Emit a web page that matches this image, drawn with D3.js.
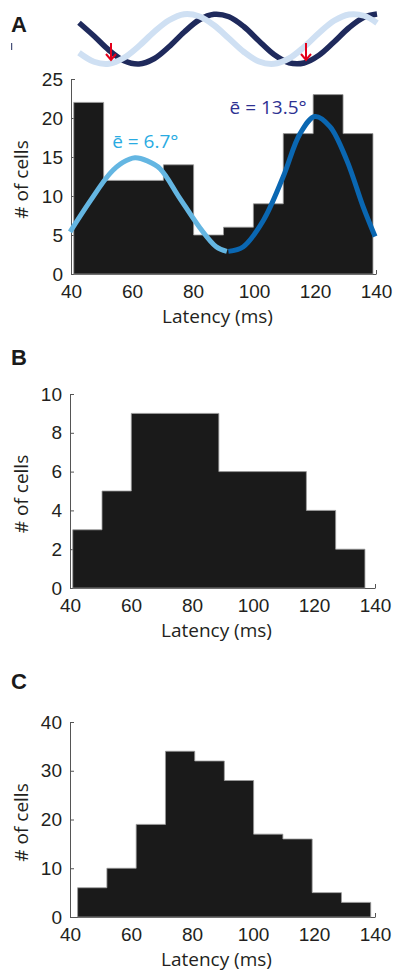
<!DOCTYPE html>
<html>
<head>
<meta charset="utf-8">
<script src="https://cdn.jsdelivr.net/npm/d3@7"></script>
<style>
  body{margin:0;background:#fff;}
  svg{display:block;font-family:"Open Sans",sans-serif;}
  .tick text{font-size:19px;fill:#231f20;}
  .ax path,.ax line{stroke:#555;stroke-width:1;}
</style>
</head>
<body>
<svg id="fig" width="393" height="972"></svg>
<script>
//DANE
//panel A - histogram + dopasowane krzywe
let binsA=[40.9, 50.7, 60.5, 70.3, 80.2, 90.0, 99.8, 109.6, 119.4, 129.2, 139.0]; //krawedzie przedzialow (ms)
let countsA=[22, 12, 12, 14, 5, 6, 9, 18, 23, 18];
let ticksA=[0, 5, 10, 15, 20, 25];
let fitLightX=[39.7, 46.2, 52.8, 57.0, 61.0, 65.0, 69.2, 75.7, 82.3, 87.6, 91.1];
let fitLightY=[5.4, 9.3, 12.9, 14.3, 14.9, 14.5, 13.5, 9.7, 5.9, 3.5, 2.9];
let fitDarkX=[91.6, 96.5, 103.1, 109.6, 115.1, 120.0, 124.9, 130.4, 135.8, 139.7];
let fitDarkY=[2.9, 3.5, 6.9, 12.5, 18.0, 20.2, 18.9, 14.6, 8.6, 4.8];
let labelsA=["ē = 6.7°", "ē = 13.5°"];

//schemat fal nad panelem A (jednostki umowne)
let waveU=[0, 15, 30, 45, 60, 75, 90, 105, 120, 135, 150, 165, 180, 195, 210, 225, 240, 255, 270, 285, 298];
let waveDark=[0.65, 0.12, -0.45, -0.87, -1.0, -0.79, -0.31, 0.27, 0.76, 0.99, 0.89, 0.49, -0.08, -0.62, -0.95, -0.96, -0.65, -0.12, 0.45, 0.87, 1.0];
let waveLight=[-0.55, -0.91, -0.99, -0.75, -0.28, 0.28, 0.75, 0.99, 0.91, 0.55, 0.02, -0.52, -0.9, -0.99, -0.78, -0.32, 0.24, 0.73, 0.98, 0.93, 0.64];
let arrowsU=[32, 227];

//panel B
let binsB=[40.9, 50.5, 60.1, 69.6, 79.2, 88.8, 98.4, 108.0, 117.5, 127.1, 136.7];
let countsB=[3, 5, 9, 9, 9, 6, 6, 6, 4, 2];
let ticksB=[0, 2, 4, 6, 8, 10];

//panel C
let binsC=[42.5, 52.1, 61.7, 71.3, 80.9, 90.6, 100.2, 109.8, 119.4, 129.0, 138.6];
let countsC=[6, 10, 19, 34, 32, 28, 17, 16, 5, 3];
let ticksC=[0, 10, 20, 30, 40];

let xTicks=[40, 60, 80, 100, 120, 140];

const svg=d3.select("#fig");

//FUNKCJA RYSUJACA HISTOGRAM
function drawHist(bins, counts, yTicks, yMax, x0, x1, yBottom, yTop, letter, letterY){
    var x=d3.scaleLinear().domain([40, 140]).range([x0, x1]);
    var y=d3.scaleLinear().domain([0, yMax]).range([yBottom, yTop]);
    var g=svg.append("g");

    //osie pod slupkami (slupki zakrywaja znaczniki)
    g.append("g").attr("class", "ax")
        .attr("transform", "translate(0,"+yBottom+")")
        .call(d3.axisBottom(x).tickValues(xTicks).tickSizeInner(-4).tickSizeOuter(0).tickPadding(10.5));
    g.append("g").attr("class", "ax")
        .attr("transform", "translate("+x0+",0)")
        .call(d3.axisLeft(y).tickValues(yTicks).tickSizeInner(-4).tickSizeOuter(0).tickPadding(8));

    //slupki jako jeden kontur (bez szczelin miedzy przedzialami)
    var pts=[[x(bins[0]), y(0)]];
    counts.forEach((c, i)=>{ pts.push([x(bins[i]), y(c)]); pts.push([x(bins[i+1]), y(c)]); });
    pts.push([x(bins[bins.length-1]), y(0)]);
    g.append("path").attr("d", d3.line()(pts)+"Z")
        .attr("fill", "#1a1a1a").attr("stroke", "#9a9a9a").attr("stroke-width", 0.8);

    g.append("text").attr("x", (x0+x1)/2-6).attr("y", yBottom+49)
        .attr("text-anchor", "middle").attr("font-size", 19).attr("fill", "#231f20")
        .text("Latency (ms)");
    g.append("text").attr("transform", "translate(28,"+((yBottom+yTop)/2+3)+") rotate(-90)")
        .attr("text-anchor", "middle").attr("font-size", 19).attr("fill", "#231f20")
        .text("# of cells");
    svg.append("text").attr("x", 11).attr("y", letterY)
        .attr("font-family", "'Liberation Sans',Arial,sans-serif").attr("font-weight", "bold")
        .attr("font-size", 22).attr("fill", "#1a1a1a").text(letter);
    return {x: x, y: y, g: g};
}

//PANEL A
let pA=drawHist(binsA, countsA, ticksA, 25, 71, 376, 274, 79, "A", 32);

let fitLine=d3.line().x(d=>pA.x(d[0])).y(d=>pA.y(d[1])).curve(d3.curveCatmullRom);
pA.g.append("path").attr("d", fitLine(fitLightX.map((v, i)=>[v, fitLightY[i]])))
    .attr("fill", "none").attr("stroke", "#64b6e2").attr("stroke-width", 5);
pA.g.append("path").attr("d", fitLine(fitDarkX.map((v, i)=>[v, fitDarkY[i]])))
    .attr("fill", "none").attr("stroke", "#0a67b2").attr("stroke-width", 5);

pA.g.append("text").attr("x", pA.x(53.5)).attr("y", pA.y(15.5)-5)
    .attr("font-size", 19).attr("fill", "#29abe2").text(labelsA[0]);
pA.g.append("text").attr("x", pA.x(92)).attr("y", pA.y(20)-4)
    .attr("font-size", 19).attr("fill", "#2e3192").text(labelsA[1]);

//fale schematu
let wx=d3.scaleLinear().domain([0, 298]).range([79, 377]);
let wy=d3.scaleLinear().domain([-1, 1]).range([64, 14]);
let waveLine=d3.line().x(d=>wx(d[0])).y(d=>wy(d[1])).curve(d3.curveCatmullRom);
svg.append("path").attr("d", waveLine(waveU.map((u, i)=>[u, waveDark[i]])))
    .attr("fill", "none").attr("stroke", "#1f2a5c").attr("stroke-width", 5.5);
svg.append("path").attr("d", waveLine(waveU.map((u, i)=>[u, waveLight[i]])))
    .attr("fill", "none").attr("stroke", "#cfe0f3").attr("stroke-width", 6);

//czerwone strzalki
arrowsU.forEach(u=>{
    var ax=wx(u), top=wy(-0.16), tip=wy(-0.84);
    svg.append("path")
        .attr("d", "M"+ax+","+top+"L"+ax+","+tip+"M"+(ax-5)+","+(tip-6)+"L"+ax+","+tip+"L"+(ax+5)+","+(tip-6))
        .attr("fill", "none").attr("stroke", "#e3001b").attr("stroke-width", 2);
});
svg.append("line").attr("x1", 11.7).attr("x2", 11.7).attr("y1", 43).attr("y2", 50)
    .attr("stroke", "#1f2a5c").attr("stroke-width", 1);

//PANEL B
drawHist(binsB, countsB, ticksB, 10, 70, 375, 588, 394, "B", 365);

//PANEL C
drawHist(binsC, countsC, ticksC, 40, 70, 375, 917, 722, "C", 689);
</script>
</body>
</html>
